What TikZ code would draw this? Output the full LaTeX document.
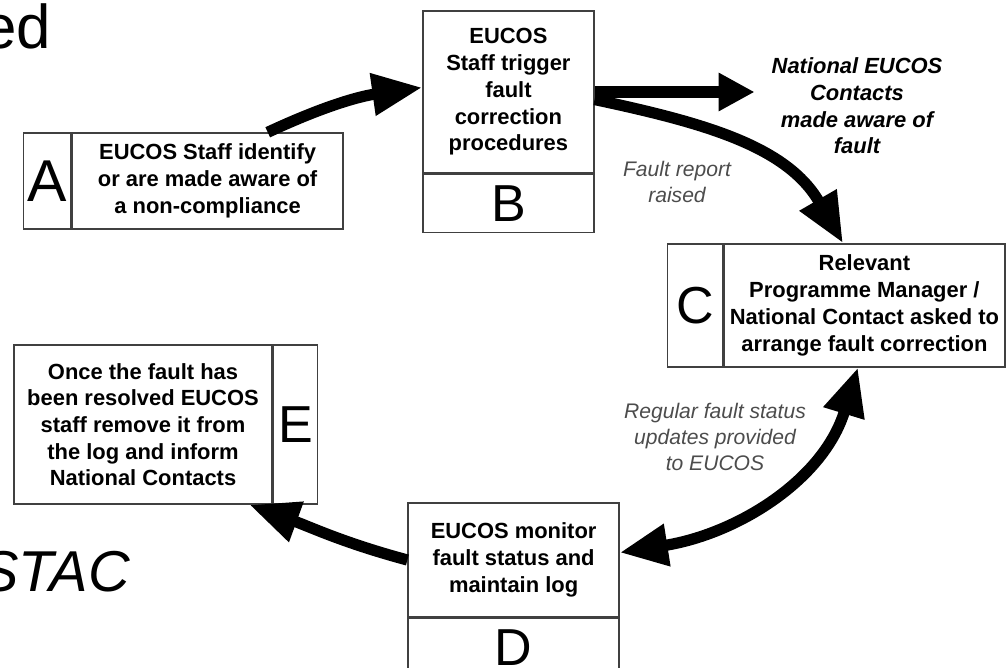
\documentclass[tikz,border=0pt]{standalone}
\usepackage{fontspec}
\setmainfont{Liberation Sans}
\usetikzlibrary{positioning,arrows.meta}

\tikzstyle{stage}=[rectangle, draw=black!75, line width=1pt, align=center,
                   inner sep=0.1cm, font=\fontsize{15.6}{19}\selectfont\bfseries]
\tikzstyle{stage_tag}=[rectangle, draw=black!75, line width=1pt,
                   inner sep=0cm, font=\fontsize{37}{40}\selectfont]
\tikzstyle{remark}=[align=center, inner sep=0.1cm, text=black!70,
                   font=\fontsize{15}{18.5}\selectfont\itshape]
\tikzstyle{link}=[line width=0.28cm, -{Triangle[length=1.25cm, width=1cm]}]

\begin{document}
\begin{tikzpicture}
  \useasboundingbox (0, 0) rectangle (25.175, 16.675);

  %%%%%%%%%%%%%%%%%%%%%%%%%%%%%%
  % slide text
  \node (title) at (-0.45, 15.46) [anchor=base west, inner sep=0, font=\fontsize{44}{48}\selectfont] {ed};
  \node (sub) at (3.25, 1.9) [anchor=base east, inner sep=0, font=\fontsize{41}{46}\selectfont\itshape] {STAC};

  %%%%%%%%%%%%%%%%%%%%%%%%%%%%%%
  % stages
  \node (a_txt) at (5.19, 12.15) [stage, minimum width=6.775cm, minimum height=2.4cm] {EUCOS Staff identify\\or are made aware of\\a non-compliance};
  \node (a_tag) [stage_tag, left=0cm of a_txt, minimum width=1.175cm, minimum height=2.4cm, font=\fontsize{42}{44}\selectfont] {A};

  \node (b_txt) at (12.71, 14.375) [stage, minimum width=4.275cm, minimum height=4.05cm] {EUCOS\\Staff trigger\\fault\\correction\\procedures};
  \node (b_tag) [stage_tag, below=0cm of b_txt, minimum width=4.275cm, minimum height=1.45cm] {B};

  \node (c_txt) at (21.61, 9.04) [stage, minimum width=7.025cm, minimum height=3.075cm] {Relevant\\Programme Manager /\\National Contact asked to\\arrange fault correction};
  \node (c_tag) [stage_tag, left=0cm of c_txt, minimum width=1.375cm, minimum height=3.075cm] {C};

  \node (d_txt) at (12.84, 2.675) [stage, minimum width=5.275cm, minimum height=2.85cm] {EUCOS monitor\\fault status and\\maintain log};
  \node (d_tag) [stage_tag, below=0cm of d_txt, minimum width=5.275cm, minimum height=1.45cm] {D};

  \node (e_txt) at (3.575, 6.06) [stage, minimum width=6.45cm, minimum height=3.975cm] {Once the fault has\\been resolved EUCOS\\staff remove it from\\the log and inform\\National Contacts};
  \node (e_tag) [stage_tag, right=0cm of e_txt, minimum width=1.1cm, minimum height=3.975cm] {E};

  %%%%%%%%%%%%%%%%%%%%%%%%%%%%%%
  % remarks
  \node (nat) at (21.425, 14.025) [remark, text=black, inner xsep=0.42cm, font=\fontsize{15.6}{19}\selectfont\bfseries\itshape] {National EUCOS\\Contacts\\made aware of\\fault};
  \node (fault_lbl) at (16.925, 12.125) [remark] {Fault report\\raised};
  \node (status_lbl) at (17.875, 5.75) [remark] {Regular fault status\\updates provided\\to EUCOS};

  %%%%%%%%%%%%%%%%%%%%%%%%%%%%%%
  % links
  \draw [link] (a_txt.39) to [out=25, in=188] (b_txt.177);

  \draw [link, -{Triangle[length=0.9cm, width=0.9cm]}] (b_txt.east) -- (b_txt.east -| nat.west);

  \draw [link] (b_txt.-5) to [out=-12, in=120] (c_txt.109);

  \draw [link, {Triangle[length=1.2cm, width=1cm]}-{Triangle[length=1.2cm, width=1cm]}] (c_txt.-96) to [out=-107, in=9] (d_txt.4);

  \draw [link] (d_txt.west) to [out=165, in=-20] (e_txt.-37);

\end{tikzpicture}
\end{document}
